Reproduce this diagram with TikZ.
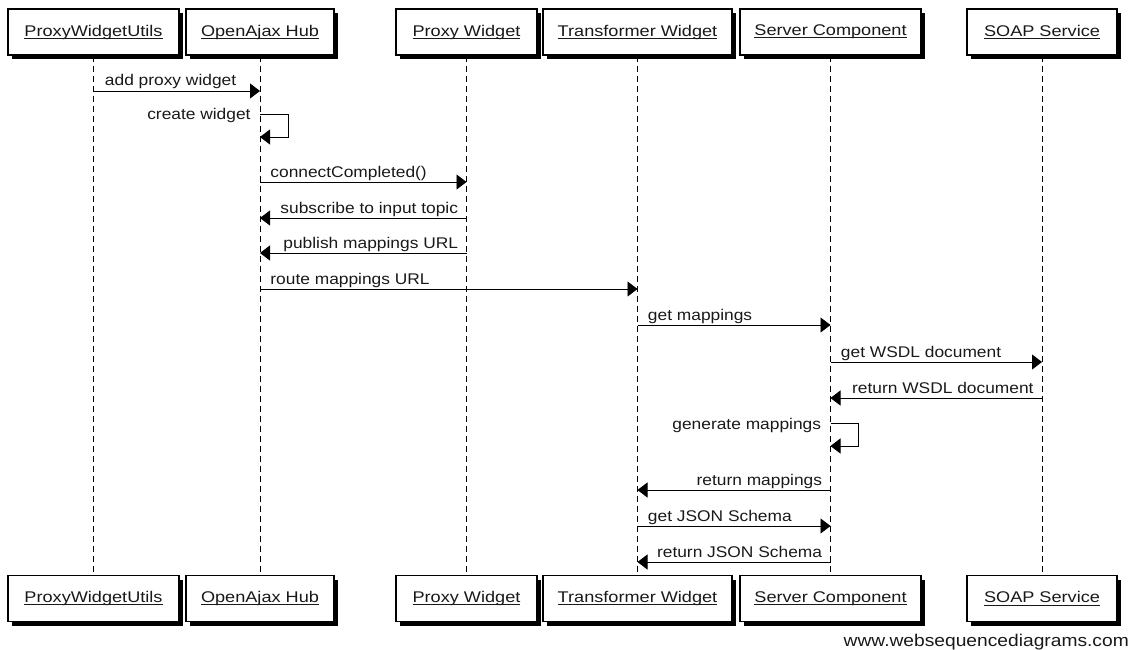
\documentclass[tikz,border=0pt]{standalone}
\usepackage{fontspec}
\setmainfont{Liberation Sans}
\newfontfamily\lblfont{Liberation Sans}[FakeStretch=1.12]
\newfontfamily\boxfont{Liberation Sans}[FakeStretch=1.17]
\newfontfamily\wmfont{Liberation Sans}[FakeStretch=1.13]
\usetikzlibrary{arrows.meta,shadows}
% underlined participant name with a thin rule just under the baseline
\newcommand\ulbl[1]{\setbox0\hbox{#1}\rlap{\rule[-2.4pt]{\wd0}{0.8pt}}\box0}
\begin{document}
\begin{tikzpicture}[x=1pt,y=-1pt,
  every node/.style={font=\lblfont\fontsize{15.5}{18}\selectfont, text=black!90},
  actor/.style={draw, line width=1.3pt, fill=white, minimum height=46pt, inner sep=0pt,
    font=\boxfont\fontsize{15.5}{18}\selectfont,
    general shadow={fill=black, shadow xshift=4pt, shadow yshift=-4pt}},
  life/.style={dash pattern=on 6pt off 4pt, line width=0.9pt},
  msg/.style={line width=0.9pt, -{Triangle[length=10pt,width=15pt]}},
  lbl/.style={inner sep=0pt},
  fwd/.style={lbl, anchor=base west, xshift=10pt, yshift=5pt},
  bwd/.style={lbl, anchor=base east, xshift=-8pt, yshift=5pt},
  self/.style={lbl, anchor=base east, xshift=-9pt, yshift=-6pt}
]
\useasboundingbox (0,0) rectangle (1138,650);

% participants, top row
\node[actor, minimum width=171pt] (pwuT) at (93.5,32) {\ulbl{ProxyWidgetUtils}};
\node[actor, minimum width=148pt] (oahT) at (260,32) {\ulbl{OpenAjax Hub}};
\node[actor, minimum width=141pt] (pwT) at (466.5,32) {\ulbl{Proxy Widget}};
\node[actor, minimum width=189pt] (twT) at (637.5,32) {\ulbl{Transformer Widget}};
\node[actor, minimum width=181pt] (scT) at (830.5,32) {\ulbl{Server Component}};
\node[actor, minimum width=150pt] (soT) at (1042,32) {\ulbl{SOAP Service}};

% participants, bottom row
\node[actor, minimum width=171pt] (pwuB) at (93.5,598.5) {\ulbl{ProxyWidgetUtils}};
\node[actor, minimum width=148pt] (oahB) at (260,598.5) {\ulbl{OpenAjax Hub}};
\node[actor, minimum width=141pt] (pwB) at (466.5,598.5) {\ulbl{Proxy Widget}};
\node[actor, minimum width=189pt] (twB) at (637.5,598.5) {\ulbl{Transformer Widget}};
\node[actor, minimum width=181pt] (scB) at (830.5,598.5) {\ulbl{Server Component}};
\node[actor, minimum width=150pt] (soB) at (1042,598.5) {\ulbl{SOAP Service}};

% lifelines
\foreach \p in {pwu,oah,pw,tw,sc,so}
  \draw[life] (\p T.south) -- (\p B.north);

% messages
\draw[msg] (pwuT |- 0,91) node[fwd, xshift=1pt] (m1) {add proxy widget} -- (oahT |- 0,91);
\draw[msg] (oahT |- 0,114) node[self] (m2) {create widget}
  -- ++(28,0) -- ++(0,23) -- (oahT |- 0,137);
\draw[msg] (oahT |- 0,182) node[fwd] (m3) {connectCompleted()} -- (pwT |- 0,182);
\draw[msg] (pwT |- 0,218) node[bwd] (m4) {subscribe to input topic} -- (oahT |- 0,218);
\draw[msg] (pwT |- 0,253) node[bwd] (m5) {publish mappings URL} -- (oahT |- 0,253);
\draw[msg] (oahT |- 0,289) node[fwd] (m6) {route mappings URL} -- (twT |- 0,289);
\draw[msg] (twT |- 0,325) node[fwd] (m7) {get mappings} -- (scT |- 0,325);
\draw[msg] (scT |- 0,362) node[fwd] (m8) {get WSDL document} -- (soT |- 0,362);
\draw[msg] (soT |- 0,398) node[bwd] (m9) {return WSDL document} -- (scT |- 0,398);
\draw[msg] (scT |- 0,423) node[self] (m10) {generate mappings}
  -- ++(28,0) -- ++(0,23) -- (scT |- 0,446);
\draw[msg] (scT |- 0,490) node[bwd] (m11) {return mappings} -- (twT |- 0,490);
\draw[msg] (twT |- 0,526) node[fwd] (m12) {get JSON Schema} -- (scT |- 0,526);
\draw[msg] (scT |- 0,562) node[bwd] (m13) {return JSON Schema} -- (twT |- 0,562);

% footer
\node[lbl, anchor=base east, font=\wmfont\fontsize{17}{20}\selectfont] (wm) at (1129,646) {www.websequencediagrams.com};
\end{tikzpicture}
\end{document}
